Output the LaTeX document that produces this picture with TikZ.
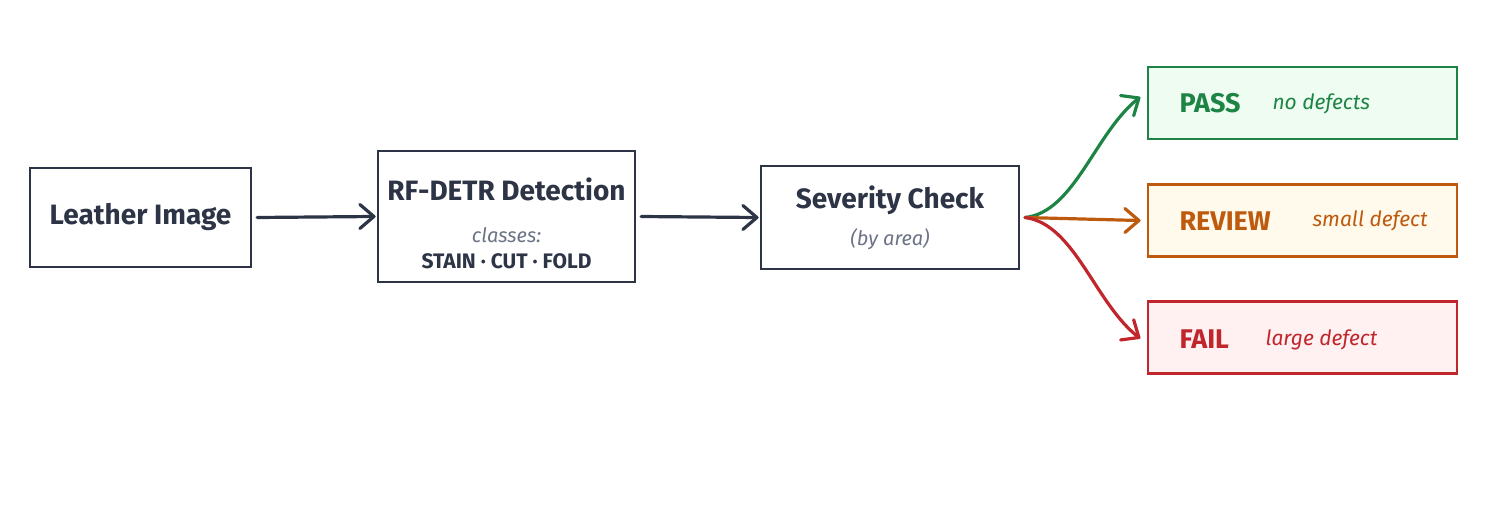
\documentclass[tikz,border=0pt]{standalone}
\usepackage{fontspec}
\setmainfont{Fira Sans}
\definecolor{ink}{HTML}{2D3446}
\definecolor{grayt}{HTML}{6B7385}
\definecolor{gr}{HTML}{1E8445}
\definecolor{grf}{HTML}{EEFCF2}
\definecolor{or}{HTML}{BE5A0E}
\definecolor{orf}{HTML}{FFFAEC}
\definecolor{rd}{HTML}{C0262B}
\definecolor{rdf}{HTML}{FFF1F1}
\tikzset{
  box/.style={draw=ink, line width=2.2pt, fill=white, rectangle, inner sep=0pt},
  title/.style={font=\fontsize{28}{32}\selectfont\bfseries, text=ink},
  sub/.style={font=\fontsize{20}{24}\selectfont\itshape, text=grayt},
  cls/.style={font=\fontsize{21}{24}\selectfont\bfseries, text=ink},
  flow/.style={line width=3.2pt, line cap=round, line join=round},
  outbox/.style={rectangle, line width=2.2pt, minimum width=309pt, minimum height=72pt, inner sep=0pt},
  lab/.style={font=\fontsize{27}{30}\selectfont\bfseries, anchor=west},
  desc/.style={font=\fontsize{21}{24}\selectfont\itshape, anchor=west},
}
\begin{document}
\begin{tikzpicture}[x=1pt,y=-1pt]
\useasboundingbox (0,0) rectangle (1492,511);
% main boxes
\node[box, minimum width=221pt, minimum height=99pt] (leather) at (140.5,217.5) {};
\node[title] (leathert) at (140.5,217) {Leather Image};
\node[box, minimum width=257pt, minimum height=131pt] (rf) at (506.5,216.5) {};
\node[title] (rft) at (506.5,189) {RF-DETR Detection};
\node[sub] (rfc) at (506.5,235) {classes:};
\node[cls] (rfs) at (506.5,261) {STAIN · CUT · FOLD};
\node[box, minimum width=258pt, minimum height=103pt] (sev) at (890,217.5) {};
\node[title] (sevt) at (890,200) {Severity Check};
\node[sub] (seva) at (890,239) {(by area)};
% outcome boxes
\node[outbox, draw=gr, fill=grf] (pass) at (1302.5,103) {};
\node[lab, text=gr] (passl) at (1176,103) {PASS};
\node[desc, text=gr] (passd) at (1269,104) {no defects};
\node[outbox, draw=or, fill=orf] (review) at (1302.5,220.5) {};
\node[lab, text=or] (reviewl) at (1176,221) {REVIEW};
\node[desc, text=or] (reviewd) at (1309,221) {small defect};
\node[outbox, draw=rd, fill=rdf] (fail) at (1302.5,337.5) {};
\node[lab, text=rd] (faill) at (1176,339) {FAIL};
\node[desc, text=rd] (faild) at (1262,340) {large defect};
% connector ends
\coordinate (t1) at ([xshift=-3pt]rf.west);
\coordinate (t2) at ([xshift=-3pt]sev.west);
\coordinate (src) at ([xshift=5pt]sev.east);
\coordinate (tp) at ([xshift=-8pt,yshift=5pt]pass.west);
\coordinate (tr) at ([xshift=-8pt]review.west);
\coordinate (tf) at ([xshift=-8pt]fail.west);
% connectors
\draw[flow, draw=ink] ([xshift=5pt]leather.east) -- (t1);
\draw[flow, draw=ink] ([xshift=5pt]rf.east) -- (t2);
\draw[flow, draw=gr] (src) .. controls (1075,212) and (1095,132) .. (tp);
\draw[flow, draw=or] (src) -- (tr);
\draw[flow, draw=rd] (src) .. controls (1075,224) and (1095,304) .. (tf);
% arrowheads (open chevrons)
\draw[flow, draw=ink, shift={(t1)}] (-14,-12) -- (0,0) -- (-14,12);
\draw[flow, draw=ink, shift={(t2)}] (-14,-12) -- (0,0) -- (-14,12);
\draw[flow, draw=gr, shift={(tp)}, rotate=33] (-14,-12) -- (0,0) -- (-14,12);
\draw[flow, draw=or, shift={(tr)}] (-14,-12) -- (0,0) -- (-14,12);
\draw[flow, draw=rd, shift={(tf)}, rotate=-33] (-14,-12) -- (0,0) -- (-14,12);
\end{tikzpicture}
\end{document}
